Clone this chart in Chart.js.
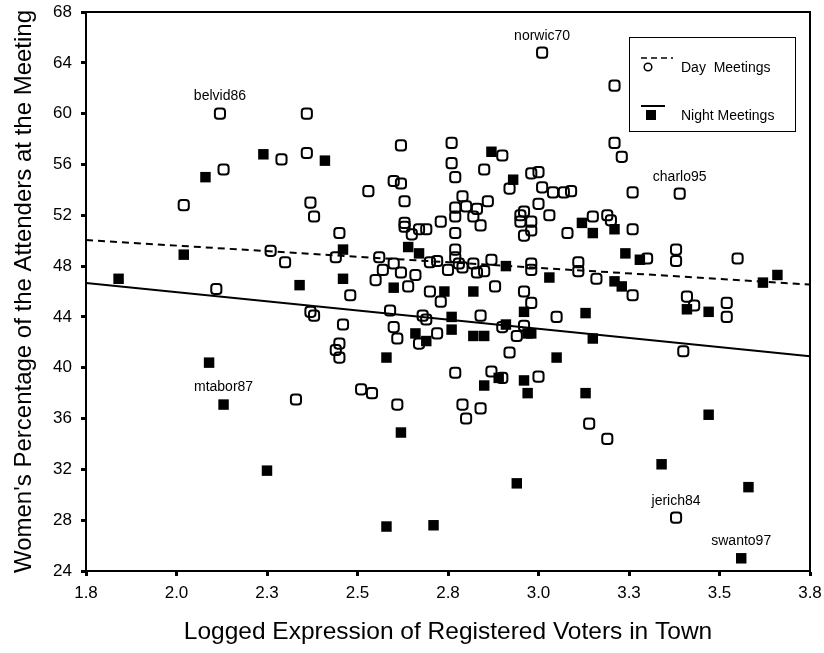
<!DOCTYPE html>
<html>
<head>
<meta charset="utf-8">
<title>Women at town meetings</title>
<script src="https://cdn.jsdelivr.net/npm/chart.js@4.4.1/dist/chart.umd.min.js"></script>
<style>
    html, body { margin: 0; padding: 0; background: #fff; }
    #wrap { width: 824px; height: 653px; }
</style>
</head>
<body>
<div id="wrap"><canvas id="meetingChart" width="824" height="653"></canvas></div>
<script>
// town size (log10 of registered voters) and women's share of attenders
// the first entries of each series are the towns that get a name tag
const dayX = [2.12, 3.01, 3.39, 3.38,
    2.36, 2.29, 2.36, 2.13, 2.02, 2.37, 2.38, 2.45, 2.44, 2.26, 2.30, 2.11, 2.48, 2.37, 2.38, 2.46,
    2.45, 2.44, 2.45, 2.33, 2.51, 2.62, 2.76, 2.90, 2.76, 2.85, 2.77, 2.92, 2.98, 3.00, 2.60, 2.62,
    2.53, 3.01, 3.04, 3.07, 3.09, 2.63, 2.79, 2.86, 2.77, 2.80, 2.83, 2.77, 2.82, 2.84, 2.73, 2.77,
    2.63, 2.63, 2.65, 2.67, 2.69, 2.96, 2.95, 2.95, 2.98, 2.98, 2.96, 3.00, 3.03, 3.08, 3.15, 3.19,
    2.56, 2.60, 2.57, 2.55, 2.62, 2.66, 2.70, 2.72, 2.75, 2.77, 2.77, 2.78, 2.79, 2.82, 2.83, 2.85,
    2.87, 2.98, 2.98, 3.11, 3.11, 3.16, 2.64, 2.70, 2.88, 2.96, 2.73, 2.98, 3.05, 2.59, 2.68, 2.69,
    2.84, 2.60, 2.61, 2.67, 2.72, 2.90, 2.96, 2.94, 2.92, 2.77, 2.87, 2.90, 3.00, 2.54, 2.61, 2.79,
    2.84, 2.80, 3.14, 3.19, 3.21, 3.21, 3.23, 3.26, 3.20, 3.26, 3.30, 3.38, 3.38, 3.55, 3.26, 3.41,
    3.43, 3.52, 3.52, 3.40];
const dayY = [60.0, 64.8, 53.7, 28.2,
    60.0, 56.4, 56.9, 55.6, 52.8, 53.0, 51.9, 50.6, 48.7, 49.2, 48.3, 46.2, 45.7, 44.4, 44.1, 43.4,
    41.9, 41.4, 40.8, 37.5, 38.3, 57.5, 57.7, 56.7, 56.1, 55.6, 55.0, 54.1, 55.3, 55.4, 54.7, 54.5,
    53.9, 54.2, 53.8, 53.8, 53.9, 53.1, 53.5, 53.1, 52.6, 52.7, 52.5, 51.9, 51.9, 51.2, 51.5, 50.6,
    51.4, 51.1, 50.5, 50.9, 50.9, 52.3, 52.0, 51.5, 51.5, 50.8, 50.4, 52.9, 52.0, 50.6, 51.9, 52.0,
    48.7, 48.2, 47.7, 46.9, 47.5, 47.3, 48.3, 48.4, 47.7, 49.3, 48.7, 48.2, 47.9, 48.2, 47.5, 47.6,
    48.5, 48.2, 47.7, 48.3, 47.6, 47.0, 46.4, 46.0, 46.4, 46.0, 45.2, 45.1, 44.0, 44.5, 44.1, 43.8,
    44.1, 43.2, 42.3, 41.9, 42.7, 43.2, 43.3, 42.5, 41.2, 39.6, 39.7, 39.2, 39.3, 38.0, 37.1, 37.1,
    36.8, 36.0, 35.6, 34.4, 62.2, 57.7, 56.6, 53.8, 51.6, 50.9, 48.6, 49.3, 48.4, 48.6, 45.7, 45.6,
    44.9, 45.1, 44.0, 41.3];

const nightX = [3.56, 2.13,
    2.24, 2.41, 2.08, 2.46, 2.02, 1.84, 2.34, 2.46, 2.09, 2.25, 2.87, 2.93, 3.12, 3.15, 2.64, 2.67,
    2.91, 3.03, 2.60, 2.74, 2.82, 3.21, 3.24, 3.28, 3.62, 3.66, 3.21, 3.23, 3.41, 3.47, 3.13, 3.15,
    3.13, 3.47, 3.34, 3.58, 2.96, 2.76, 2.76, 2.66, 2.69, 2.82, 2.85, 2.91, 2.97, 2.98, 2.58, 3.05,
    2.89, 2.85, 2.96, 2.97, 2.62, 2.94, 2.58, 2.71];
const nightY = [25.0, 37.1,
    56.8, 56.3, 55.0, 49.3, 48.9, 47.0, 46.5, 47.0, 40.4, 31.9, 57.0, 54.8, 51.4, 50.6, 49.5, 49.0,
    48.0, 47.1, 46.3, 46.0, 46.0, 50.9, 49.0, 48.5, 46.7, 47.3, 46.8, 46.4, 44.6, 44.4, 44.3, 42.3,
    38.0, 36.3, 32.4, 30.6, 44.4, 44.0, 43.0, 42.7, 42.1, 42.5, 42.5, 43.4, 42.7, 42.7, 40.8, 40.8,
    39.2, 38.6, 39.0, 38.0, 34.9, 30.9, 27.5, 27.6];

// fitted lines, evaluated at both ends of the x range
const fitX = [1.75, 3.75];
const dayFitY = [50.05, 46.55];
const nightFitY = [46.66, 40.9];

// named towns: dataset (0 = day, 1 = night) and index in that series
const townNames = ["belvid86", "norwic70", "charlo95", "jerich84", "swanto97", "mtabor87"];
const townSeries = [0, 0, 0, 0, 1, 1];
const townIndex = [0, 1, 2, 3, 0, 1];

const xTickValues = [1.75, 2.0, 2.25, 2.5, 2.75, 3.0, 3.25, 3.5, 3.75];
const xTickLabels = ["1.8", "2.0", "2.3", "2.5", "2.8", "3.0", "3.3", "3.5", "3.8"];
const yTickValues = [24, 28, 32, 36, 40, 44, 48, 52, 56, 60, 64, 68];

const FONT = "'Liberation Sans', Arial, Helvetica, sans-serif";
Chart.defaults.font.family = FONT;
Chart.defaults.color = "#000";

const toPoints = (xs, ys) => xs.map((x, i) => ({x: x, y: ys[i]}));

// frame around the plot area (top and right sides)
const framePlugin = {
    id: "frame",
    afterDatasetsDraw(chart) {
        const a = chart.chartArea;
        const ctx = chart.ctx;
        ctx.save();
        ctx.strokeStyle = "#000";
        ctx.lineWidth = 2;
        ctx.beginPath();
        ctx.moveTo(a.left, a.top);
        ctx.lineTo(a.right, a.top);
        ctx.lineTo(a.right, a.bottom);
        ctx.stroke();
        ctx.restore();
    }
};

// town names written above their markers
const townLabelPlugin = {
    id: "townLabels",
    afterDatasetsDraw(chart) {
        const ctx = chart.ctx;
        ctx.save();
        ctx.font = "14px " + FONT;
        ctx.fillStyle = "#000";
        ctx.textAlign = "center";
        ctx.textBaseline = "middle";
        townNames.forEach((name, i) => {
            const meta = chart.getDatasetMeta(townSeries[i]);
            const pt = meta.data[townIndex[i]];
            if (pt) ctx.fillText(name, pt.x, pt.y - 17);
        });
        ctx.restore();
    }
};

// boxed key in the upper right corner
const keyPlugin = {
    id: "key",
    afterDraw(chart) {
        const a = chart.chartArea;
        const ctx = chart.ctx;
        const left = a.right - 181;
        const top = a.top + 25;
        ctx.save();
        ctx.fillStyle = "#fff";
        ctx.fillRect(left, top, 166, 94);
        ctx.strokeStyle = "#000";
        ctx.lineWidth = 1;
        ctx.strokeRect(left + 0.5, top + 0.5, 166, 94);

        // day: dashed line over an open circle
        ctx.lineWidth = 1.5;
        ctx.setLineDash([6, 4]);
        ctx.beginPath();
        ctx.moveTo(left + 12, top + 21);
        ctx.lineTo(left + 44, top + 21);
        ctx.stroke();
        ctx.setLineDash([]);
        ctx.beginPath();
        ctx.arc(left + 19, top + 30, 3.8, 0, Math.PI * 2);
        ctx.stroke();

        // night: solid line over a filled square
        ctx.lineWidth = 2;
        ctx.beginPath();
        ctx.moveTo(left + 12, top + 69);
        ctx.lineTo(left + 36, top + 69);
        ctx.stroke();
        ctx.fillStyle = "#000";
        ctx.fillRect(left + 17, top + 73, 10, 10);

        ctx.font = "14px " + FONT;
        ctx.textAlign = "left";
        ctx.textBaseline = "middle";
        ctx.fillText("Day  Meetings", left + 52, top + 31);
        ctx.fillText("Night Meetings", left + 52, top + 79);
        ctx.restore();
    }
};

new Chart(document.getElementById("meetingChart"), {
    type: "scatter",
    data: {
        datasets: [
            {
                label: "Day Meetings",
                data: toPoints(dayX, dayY),
                pointStyle: "rectRounded",
                pointRadius: 5.9,
                borderColor: "#000",
                backgroundColor: "rgba(0,0,0,0)",
                pointBorderWidth: 2,
                order: 2
            },
            {
                label: "Night Meetings",
                data: toPoints(nightX, nightY),
                pointStyle: "rect",
                pointRadius: 7.4,
                borderColor: "#000",
                backgroundColor: "#000",
                pointBorderWidth: 0,
                order: 1
            },
            {
                type: "line",
                label: "Day fit",
                data: toPoints(fitX, dayFitY),
                borderColor: "#000",
                borderWidth: 2,
                borderDash: [7, 5],
                pointRadius: 0,
                fill: false,
                order: 0
            },
            {
                type: "line",
                label: "Night fit",
                data: toPoints(fitX, nightFitY),
                borderColor: "#000",
                borderWidth: 2,
                pointRadius: 0,
                fill: false,
                order: 0
            }
        ]
    },
    options: {
        responsive: false,
        animation: false,
        devicePixelRatio: 1,
        layout: {padding: {top: 12, right: 14, left: 0, bottom: 0}},
        plugins: {
            legend: {display: false},
            tooltip: {enabled: false}
        },
        scales: {
            x: {
                type: "linear",
                min: 1.75,
                max: 3.75,
                afterFit: (scale) => {
                    scale.height = 82;
                    scale.paddingLeft = 0;
                    scale.paddingRight = 0;
                },
                afterBuildTicks: (scale) => {
                    scale.ticks = xTickValues.map((v) => ({value: v}));
                },
                ticks: {
                    autoSkip: false,
                    maxRotation: 0,
                    padding: 7,
                    font: {size: 17},
                    color: "#000",
                    callback: (value, index) => xTickLabels[index]
                },
                grid: {
                    drawOnChartArea: false,
                    drawTicks: true,
                    tickLength: 5,
                    tickWidth: 3,
                    tickColor: "#000"
                },
                border: {display: true, color: "#000", width: 2},
                title: {
                    display: true,
                    text: "Logged Expression of Registered Voters in Town",
                    font: {size: 24.5},
                    color: "#000",
                    padding: {top: 0, bottom: 6}
                }
            },
            y: {
                type: "linear",
                min: 24,
                max: 68,
                afterFit: (scale) => {
                    scale.width = 86;
                    scale.paddingTop = 0;
                    scale.paddingBottom = 0;
                },
                afterBuildTicks: (scale) => {
                    scale.ticks = yTickValues.map((v) => ({value: v}));
                },
                ticks: {
                    autoSkip: false,
                    padding: 9,
                    font: {size: 17},
                    color: "#000"
                },
                grid: {
                    drawOnChartArea: false,
                    drawTicks: true,
                    tickLength: 5,
                    tickWidth: 3,
                    tickColor: "#000"
                },
                border: {display: true, color: "#000", width: 2},
                title: {
                    display: true,
                    text: "Women's Percentage of the Attenders at the Meeting",
                    font: {size: 24},
                    color: "#000",
                    padding: {top: 10, bottom: 0}
                }
            }
        }
    },
    plugins: [framePlugin, townLabelPlugin, keyPlugin]
});
</script>
</body>
</html>
